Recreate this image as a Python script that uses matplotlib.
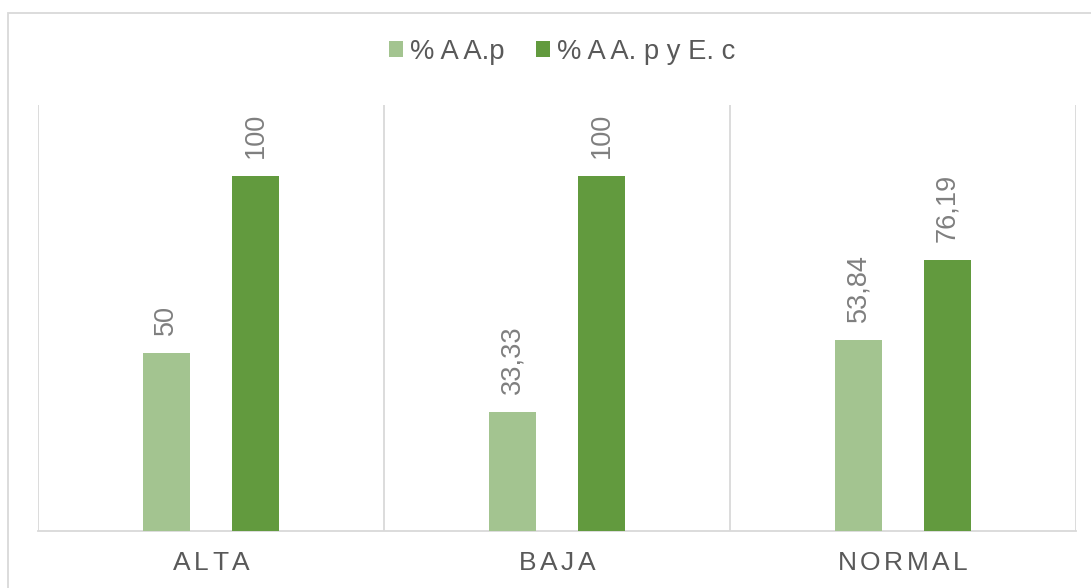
import numpy as np
from matplotlib import pyplot as plt
from matplotlib import patches, transforms
from matplotlib.font_manager import FontProperties
from matplotlib.textpath import text_to_path

plt.rcParams['font.family'] = ['Liberation Sans', 'DejaVu Sans']

categories = ['ALTA', 'BAJA', 'NORMAL']
series_names = ['% A A.p', '% A A. p y E. c']
aap = [50, 33.33, 53.84]
aap_ec = [100, 100, 76.19]
value_labels = [['50', '33,33', '53,84'], ['100', '100', '76,19']]

colors = ['#A3C490', '#629A3E']
grid_color = '#D9D9D9'
text_color = '#595959'
label_color = '#7F7F7F'
fs = 19

fig = plt.figure(figsize=(10.91, 5.88), dpi=100)
ax = fig.add_axes([38 / 1091, 1 - 530.7 / 588, (1075.7 - 38) / 1091, (530.7 - 105) / 588])

# outer chart frame (runs off the right and bottom edges)
fig.patches.append(patches.Rectangle((8 / 1091, -0.1), 1.1, 1.1 - 13 / 588,
                                     transform=fig.transFigure, fill=False,
                                     edgecolor=grid_color, linewidth=1.3))

x = np.arange(len(categories))
width = 0.136
offset = 0.129
bars = []
for i, vals in enumerate([aap, aap_ec]):
    b = ax.bar(x + (2 * i - 1) * offset, vals, width, color=colors[i],
               label=series_names[i], zorder=3)
    bars.append(b)
    for rect, lab in zip(b, value_labels[i]):
        ax.annotate(lab, (rect.get_x() + rect.get_width() / 2, rect.get_height()),
                    xytext=(0, 13), textcoords='offset points', rotation=90,
                    ha='center', va='bottom', fontsize=fs + 0.5, color=label_color)

ax.set_xlim(-0.5, len(categories) - 0.5)
ax.set_ylim(0, 120)
ax.set_yticks([])
ax.set_xticks([])
for s in ['top', 'left', 'right']:
    ax.spines[s].set_visible(False)
ax.spines['bottom'].set_color(grid_color)
ax.spines['bottom'].set_linewidth(1.3)
for xb in np.arange(-0.5, len(categories), 1.0):
    ax.axvline(xb, color=grid_color, linewidth=1.3, zorder=1)

# category labels with extra letter spacing
fp = FontProperties(family='Liberation Sans', size=fs)
spacing = 2.5  # points between letters
for xi, cat in zip(x, categories):
    widths = [text_to_path.get_text_width_height_descent(c, fp, ismath=False)[0] for c in cat]
    total = sum(widths) + spacing * (len(cat) - 1)
    pos = -total / 2
    for c, w in zip(cat, widths):
        tr = transforms.offset_copy(ax.get_xaxis_transform(), fig=fig, x=pos, y=0, units='points')
        ax.text(xi, -0.077, c, transform=tr, ha='left', va='center',
                fontproperties=fp, color=text_color)
        pos += w + spacing

fig.legend(handles=bars, labels=series_names, loc='center',
           bbox_to_anchor=(562 / 1091, 1 - 52 / 588), ncol=2, frameon=False,
           fontsize=fs + 0.7, labelcolor=text_color, handlelength=0.52, handleheight=0.52,
           handletextpad=0.25, columnspacing=1.15)

fig.savefig('out.png', dpi=100)
